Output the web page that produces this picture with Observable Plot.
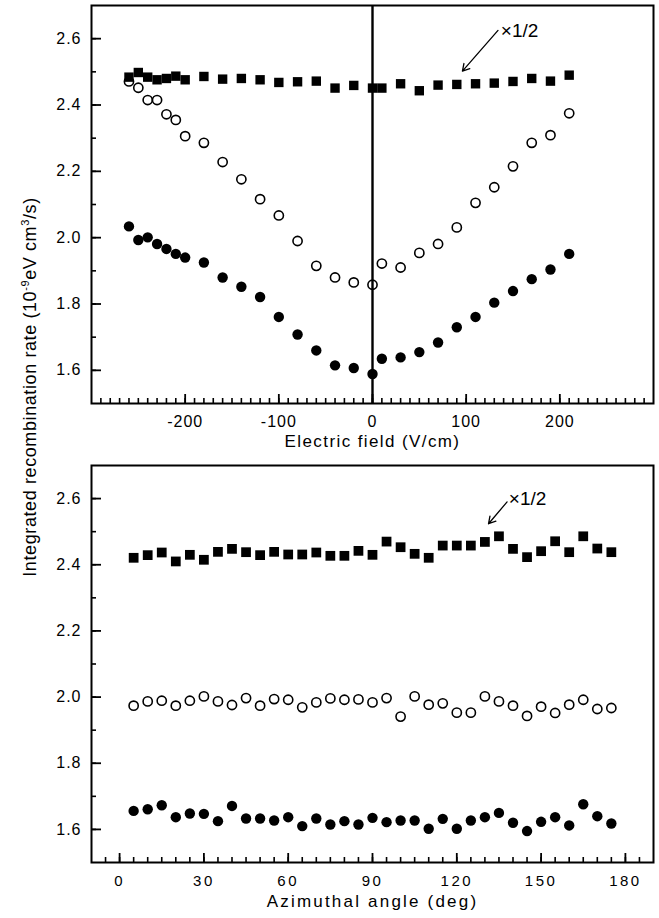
<!DOCTYPE html>
<html>
<head>
<meta charset="utf-8">
<script src="https://cdn.jsdelivr.net/npm/d3@7"></script>
<script src="https://cdn.jsdelivr.net/npm/@observablehq/plot@0.6"></script>
<style>
  html, body { margin: 0; padding: 0; background: white; }
  #wrap { position: relative; width: 659px; height: 918px; overflow: hidden; background: white; }
  #p1, #p2 { position: absolute; left: 0; }
  #p1 { top: 0; }
  #p2 { top: 460px; }
  #ylab { position: absolute; left: 0; top: 0; pointer-events: none; }
</style>
</head>
<body>
<div id="wrap">
  <div id="p1"></div>
  <div id="p2"></div>
  <svg id="ylab" width="659" height="918"></svg>
</div>
<script>
// ---- Top panel: rate vs electric field ----
const fieldX = [-260, -250, -240, -230, -220, -210, -200, -180, -160, -140, -120, -100, -80, -60, -40, -20, 0,
                10, 30, 50, 70, 90, 110, 130, 150, 170, 190, 210];
const fieldSquares = [2.484, 2.498, 2.484, 2.476, 2.480, 2.487, 2.476, 2.486, 2.478, 2.480, 2.476, 2.468, 2.470, 2.472, 2.451, 2.459, 2.451,
                      2.451, 2.464, 2.443, 2.460, 2.462, 2.464, 2.466, 2.471, 2.480, 2.472, 2.490];
const fieldOpen = [2.471, 2.452, 2.415, 2.415, 2.372, 2.355, 2.306, 2.286, 2.228, 2.176, 2.116, 2.067, 1.990, 1.915, 1.880, 1.865, 1.858,
                   1.922, 1.910, 1.954, 1.981, 2.031, 2.105, 2.152, 2.215, 2.286, 2.309, 2.375];
const fieldFilled = [2.034, 1.993, 2.001, 1.981, 1.966, 1.951, 1.940, 1.925, 1.880, 1.852, 1.821, 1.761, 1.708, 1.660, 1.615, 1.607, 1.589,
                     1.635, 1.639, 1.655, 1.684, 1.730, 1.761, 1.804, 1.839, 1.875, 1.904, 1.951];

// ---- Bottom panel: rate vs azimuthal angle ----
const angleX = [5, 10, 15, 20, 25, 30, 35, 40, 45, 50, 55, 60, 65, 70, 75, 80, 85, 90,
                95, 100, 105, 110, 115, 120, 125, 130, 135, 140, 145, 150, 155, 160, 165, 170, 175];
const angleSquares = [2.421, 2.429, 2.437, 2.410, 2.430, 2.415, 2.439, 2.448, 2.438, 2.429, 2.439, 2.431, 2.431, 2.437, 2.427, 2.427, 2.442, 2.430,
                      2.470, 2.453, 2.433, 2.421, 2.458, 2.458, 2.458, 2.469, 2.486, 2.448, 2.423, 2.441, 2.471, 2.438, 2.486, 2.449, 2.438];
const angleOpen = [1.974, 1.987, 1.989, 1.974, 1.989, 2.002, 1.987, 1.976, 1.997, 1.974, 1.994, 1.992, 1.969, 1.984, 1.996, 1.992, 1.993, 1.984,
                   1.997, 1.941, 2.002, 1.977, 1.981, 1.953, 1.953, 2.002, 1.987, 1.974, 1.943, 1.971, 1.952, 1.977, 1.992, 1.964, 1.967];
const angleFilled = [1.656, 1.661, 1.673, 1.637, 1.648, 1.647, 1.625, 1.671, 1.633, 1.633, 1.627, 1.637, 1.610, 1.633, 1.615, 1.625, 1.615, 1.635,
                     1.622, 1.627, 1.627, 1.602, 1.632, 1.602, 1.627, 1.637, 1.650, 1.620, 1.595, 1.623, 1.637, 1.612, 1.676, 1.640, 1.618];

// ---- Ticks & labels ----
const yTicks = [1.6, 1.8, 2.0, 2.2, 2.4, 2.6];
const yMinorTicks = [1.6, 1.7, 1.8, 1.9, 2.0, 2.1, 2.2, 2.3, 2.4, 2.5, 2.6];
const fieldTicks = [-200, -100, 0, 100, 200];
const angleTicks = [0, 30, 60, 90, 120, 150, 180];
const fieldTitle = "Electric field (V/cm)";
const angleTitle = "Azimuthal angle (deg)";
const halfLabel = "\u00d71/2";
const yTitleParts = [["Integrated recombination rate (10", false], ["-9", true], ["eV cm", false], ["3", true], ["/s)", false]];

const fieldMinor = d3.range(-29, 30).map(d => d * 10);
const angleMinor = d3.range(-1, 38).map(d => d * 5);

const W = 659, ML = 91, MR = 6, MT = 5;
const FW = W - ML - MR;
const font = "'Liberation Sans', Arial, Helvetica, sans-serif";

const topRows = fieldX.map((x, i) => ({x, sq: fieldSquares[i], op: fieldOpen[i], fi: fieldFilled[i]}));
const botRows = angleX.map((x, i) => ({x, sq: angleSquares[i], op: angleOpen[i], fi: angleFilled[i]}));

function panel({rows, xDomain, xTicks, xMinor, height, marginBottom, title, titleDy, tickPad, tickFont, sqR, arrow, label, zeroLine,
                xTickSpacing, titleSpacing}) {
  const FH = height - MT - marginBottom;
  const svg = Plot.plot({
    width: W, height,
    marginLeft: ML, marginRight: MR, marginTop: MT, marginBottom,
    style: {fontFamily: font, fontSize: "16px", color: "black", background: "white"},
    x: {domain: xDomain},
    y: {domain: [1.5, 2.7]},
    marks: [
      Plot.dot(rows, {x: "x", y: "sq", symbol: "square", r: sqR, fill: "black", stroke: "none"}),
      Plot.dot(rows, {x: "x", y: "op", r: 4.6, fill: "none", stroke: "black", strokeWidth: 1.6}),
      Plot.dot(rows, {x: "x", y: "fi", r: 5.2, fill: "black", stroke: "none"}),
      Plot.tickX(xMinor, {x: d => d, insetTop: FH - 5, stroke: "black", strokeWidth: 1.6}),
      Plot.tickX(xTicks, {x: d => d, insetTop: FH - 9, stroke: "black", strokeWidth: 1.8}),
      Plot.tickY(yMinorTicks, {y: d => d, insetRight: FW - 5, stroke: "black", strokeWidth: 1.6}),
      Plot.tickY(yTicks, {y: d => d, insetRight: FW - 10, stroke: "black", strokeWidth: 1.8}),
      Plot.axisY(yTicks, {tickSize: 0, tickPadding: 10, label: null, tickFormat: d => d.toFixed(1), fontSize: 16}),
      Plot.axisX(xTicks, {tickSize: 0, tickPadding: tickPad, label: null, tickFormat: d => String(d), fontSize: tickFont}),
      Plot.text([title], {text: d => d, frameAnchor: "bottom", dy: titleDy, fontSize: 17}),
      Plot.arrow([arrow], {x1: "x1", y1: "y1", x2: "x2", y2: "y2", stroke: "black", strokeWidth: 1.3, headLength: 9}),
      Plot.text([label], {x: "x", y: "y", text: "t", textAnchor: "start", fontSize: 19}),
      ...(zeroLine ? [Plot.ruleX([0], {stroke: "black", strokeWidth: 2.4})] : []),
      Plot.frame({stroke: "black", strokeWidth: 2})
    ]
  });
  const s = d3.select(svg);
  s.selectAll('g[aria-label="y-axis tick label"] text').style("letter-spacing", "1px");
  s.selectAll('g[aria-label="x-axis tick label"] text').style("letter-spacing", xTickSpacing + "px");
  s.selectAll("text").filter(function() { return this.textContent === title; }).style("letter-spacing", titleSpacing + "px");
  return svg;
}

document.getElementById("p1").append(panel({
  rows: topRows, xDomain: [-300, 300], xTicks: fieldTicks, xMinor: fieldMinor,
  height: 460, marginBottom: 57, title: fieldTitle, titleDy: 43, tickPad: 12, tickFont: 16, sqR: 5.3, zeroLine: true,
  xTickSpacing: 1, titleSpacing: 1.4,
  arrow: {x1: 134, y1: 2.625, x2: 96, y2: 2.502},
  label: {x: 137, y: 2.623, t: halfLabel}
}));

document.getElementById("p2").append(panel({
  rows: botRows, xDomain: [-10, 190], xTicks: angleTicks, xMinor: angleMinor,
  height: 458, marginBottom: 56, title: angleTitle, titleDy: 44, tickPad: 13, tickFont: 15, sqR: 5.5, zeroLine: false,
  xTickSpacing: 2.5, titleSpacing: 2.2,
  arrow: {x1: 137.9, y1: 2.59, x2: 131.3, y2: 2.524},
  label: {x: 138.5, y: 2.6, t: halfLabel}
}));

// Shared y-axis title spanning both panels
const yl = d3.select("#ylab").append("text")
  .attr("transform", "translate(36,387) rotate(-90)")
  .attr("text-anchor", "middle")
  .style("font-family", font)
  .style("font-size", "18px")
  .style("letter-spacing", "0.6px")
  .attr("fill", "black");
yTitleParts.forEach(([t, sup], i) => {
  const prevSup = i > 0 && yTitleParts[i - 1][1];
  yl.append("tspan")
    .attr("dy", sup ? -7 : (prevSup ? 7 : 0))
    .style("font-size", sup ? "11px" : "18px")
    .text(t);
});
</script>
</body>
</html>
